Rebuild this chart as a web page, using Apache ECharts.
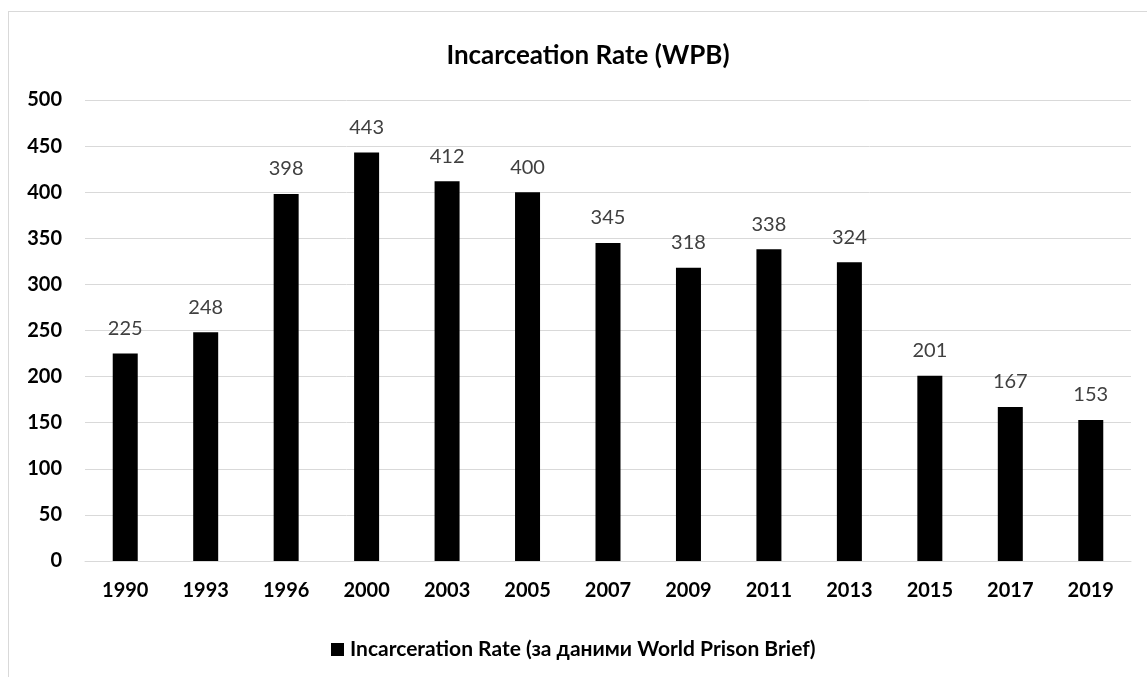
<!DOCTYPE html>
<html>
<head>
<meta charset="utf-8">
<script src="https://cdn.jsdelivr.net/npm/echarts@6/dist/echarts.min.js"></script>
<style>
  html, body { margin: 0; padding: 0; background: #fff; }
  #frame { position: absolute; left: 8px; top: 11px; width: 1160px; height: 700px; border: 1px solid #d9d9d9; box-sizing: border-box; }
  #chart { position: absolute; left: 0; top: 0; width: 1147px; height: 677px; }
</style>
</head>
<body>
<div id="frame"></div>
<div id="chart"></div>
<script>
// Incarceration rate per 100 000, World Prison Brief
const years = ['1990', '1993', '1996', '2000', '2003', '2005', '2007', '2009', '2011', '2013', '2015', '2017', '2019'];
const rates = [225, 248, 398, 443, 412, 400, 345, 318, 338, 324, 201, 167, 153];
const seriesName = 'Incarceration Rate (за даними World Prison Brief)';
const chartTitle = 'Incarceation Rate (WPB)';

const font = 'Lato, "Open Sans", sans-serif';
const chart = echarts.init(document.getElementById('chart'));
chart.setOption({
  animation: false,
  title: {
    text: chartTitle,
    left: 583, top: 38, textAlign: 'center',
    textStyle: { fontFamily: font, fontSize: 26, fontWeight: 'bold', color: '#000' }
  },
  legend: {
    data: [seriesName],
    left: 326, top: 634,
    icon: 'rect', itemWidth: 13, itemHeight: 13, itemGap: 6,
    textStyle: { fontFamily: font, fontSize: 21, fontWeight: 'bold', color: '#000', padding: [0, 0, 0, 1] }
  },
  grid: { left: 85, right: 16, top: 100, bottom: 116, containLabel: false },
  xAxis: {
    type: 'category',
    data: years,
    axisLine: { lineStyle: { color: '#d9d9d9', width: 1 } },
    axisTick: { show: false },
    axisLabel: { fontFamily: font, fontSize: 20, fontWeight: 'bold', color: '#000', margin: 20 }
  },
  yAxis: {
    type: 'value',
    min: 0, max: 500, interval: 50,
    axisLine: { show: false },
    axisTick: { show: false },
    splitLine: { lineStyle: { color: '#d9d9d9', width: 1 } },
    axisLabel: { fontFamily: font, fontSize: 20, fontWeight: 'bold', color: '#000', margin: 23 }
  },
  series: [{
    name: seriesName,
    type: 'bar',
    data: rates,
    barWidth: 25,
    itemStyle: { color: '#000' },
    label: {
      show: true, position: 'top', distance: 15,
      fontFamily: font, fontSize: 20, color: '#404040'
    }
  }]
});
</script>
</body>
</html>
